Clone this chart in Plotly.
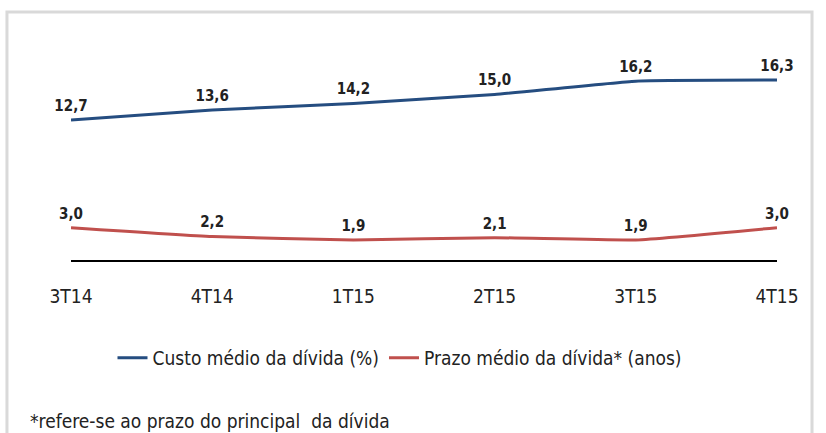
import plotly.graph_objects as go

quarters = ['3T14', '4T14', '1T15', '2T15', '3T15', '4T15']
custo_medio = [12.7, 13.6, 14.2, 15.0, 16.2, 16.3]
prazo_medio = [3.0, 2.2, 1.9, 2.1, 1.9, 3.0]

BLUE = '#254d80'
RED = '#c0504d'
TEXT_FONT = 'DejaVu Sans Condensed, DejaVu Sans, sans-serif'
LABEL_FONT = dict(family=TEXT_FONT, size=15, color='#222222')


def fmt(v):
    return f'{v:.1f}'.replace('.', ',')


def line_trace(values, name, color):
    # invisible markers push the value labels a little higher off the line
    return go.Scatter(
        x=quarters, y=values, name=name,
        mode='lines+markers+text',
        line=dict(color=color, width=3, shape='spline', smoothing=0.4),
        marker=dict(size=7, color='rgba(0,0,0,0)'),
        text=[f'<b>{fmt(v)}</b>' for v in values], textposition='top center',
        textfont=LABEL_FONT, cliponaxis=False, hoverinfo='skip',
    )


fig = go.Figure()
fig.add_trace(line_trace(custo_medio, 'Custo médio da dívida (%)', BLUE))
fig.add_trace(line_trace(prazo_medio, 'Prazo médio da dívida* (anos)', RED))

# outer grey frame of the chart box
fig.add_shape(type='rect', xref='paper', yref='paper',
              x0=-0.0907, x1=1.0496, y0=-0.85, y1=1.1216,
              line=dict(color='#d9d9d9', width=3), fillcolor='rgba(0,0,0,0)')

fig.add_annotation(text='*refere-se ao prazo do principal  da dívida',
                   xref='paper', yref='paper', x=-0.061, y=-0.72,
                   xanchor='left', yanchor='middle', showarrow=False,
                   font=dict(family=TEXT_FONT, size=19, color='#222222'))

fig.update_layout(
    width=826, height=433,
    margin=dict(l=71, r=49, t=39, b=172, autoexpand=False),
    plot_bgcolor='white', paper_bgcolor='white',
    showlegend=True,
    legend=dict(orientation='h', x=0.466, xanchor='center', y=-0.437, yanchor='middle',
                font=dict(family=TEXT_FONT, size=19, color='#222222'),
                traceorder='normal'),
)
fig.update_xaxes(
    type='category', range=[0, 5], showgrid=False, zeroline=False,
    showline=False, ticks='', ticklabelstandoff=22,
    tickfont=dict(family=TEXT_FONT, size=19, color='#222222'),
)
fig.update_yaxes(
    range=[0, 20], showgrid=False, showticklabels=False,
    zeroline=True, zerolinecolor='black', zerolinewidth=1.5,
)

fig.write_html('out.html', config={'displayModeBar': False},
               post_script="document.body.style.margin='0';")
